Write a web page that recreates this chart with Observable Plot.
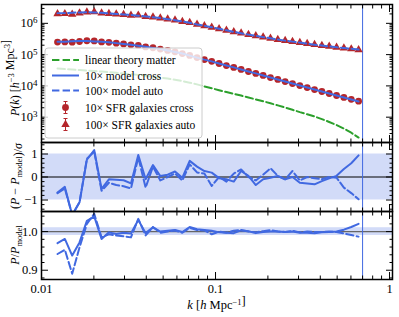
<!DOCTYPE html>
<html><head><meta charset="utf-8">
<script src="https://cdn.jsdelivr.net/npm/d3@7"></script>
<script src="https://cdn.jsdelivr.net/npm/@observablehq/plot@0.6"></script>
<style>
html,body{margin:0;padding:0;background:#fff;}
#wrap{position:relative;width:399px;height:317px;overflow:hidden;}
#wrap svg{position:absolute;left:0;}
</style></head><body><div id="wrap"></div>
<script>
// ---- data ----
const k = [0.01236,0.01362,0.01501,0.01654,0.01823,0.02009,0.02214,0.02440,0.02689,0.02963,
  0.03266,0.03599,0.03966,0.04371,0.04817,0.05309,0.05851,0.06448,0.07106,0.07831,
  0.08630,0.09510,0.1048,0.1155,0.1273,0.1403,0.1546,0.1704,0.1878,0.2069,
  0.2280,0.2513,0.2769,0.3052,0.3363,0.3707,0.4085,0.4501,0.4961,0.5467,
  0.6026,0.6640];
const modelCross = [260000,260000,266000,270000,270000,264000,260000,247000,233000,220000,
  206000,191000,177000,164000,150000,136000,122000,108000,92900,80200,
  69200,60700,52000,44900,39000,33400,28800,25100,21600,18500,
  16100,13800,11900,10300,8890,7670,6620,5710,4930,4260,
  3670,3180];
const modelAuto = [2120000,2130000,2180000,2230000,2260000,2230000,2160000,2070000,2000000,1920000,
  1840000,1760000,1660000,1570000,1470000,1360000,1260000,1150000,1040000,922000,
  832000,750000,667000,597000,535000,483000,436000,396000,362000,332000,
  304000,280000,260000,242000,224000,208000,195000,183000,172000,162000,
  153000,145000];
const linearTheory = [35700,34400,33200,32000,30800,29700,28600,27400,26200,24900,
  23700,22500,21000,19700,18400,17100,15700,14200,12700,11200,
  9640,8380,7290,6380,5600,4900,4260,3700,3220,2780,
  2380,2030,1720,1450,1240,1050,869,703,560,433,
  318,223];
const residCross = [-0.68,-0.43,-1.65,-1.1,0.75,1.17,-0.52,-0.1,-0.12,-0.14,
  -0.28,0.96,-0.1,0.52,0.04,0.1,0.24,-0.03,0.7,0.45,
  0.26,0.19,-0.05,-0.1,-0.2,0.26,0.05,-0.35,-0.1,-0.03,
  0.04,-0.1,0.0,-0.25,-0.28,-0.32,-0.18,-0.06,0.05,0.35,
  0.6,0.94];
const residAuto = [-0.7,-0.5,-1.65,-1.1,0.8,1.1,-0.6,-0.25,-0.35,-0.4,
  -0.5,0.85,-0.46,0.45,-0.15,0.0,0.15,-0.15,0.55,0.2,
  0.15,-0.39,0.0,-0.2,0.15,0.33,0.0,-0.15,0.1,0.38,
  0.05,-0.1,0.26,-0.15,0.0,-0.05,-0.1,0.0,-0.03,-0.46,
  -0.7,-0.97];
const ratioCross = [0.970,0.981,0.938,0.972,1.028,1.039,0.981,0.998,0.994,0.997,
  0.995,1.030,0.996,1.011,1.000,1.002,1.004,0.999,1.012,1.006,
  1.004,1.002,0.998,0.997,0.996,1.003,1.001,0.996,0.999,1.000,
  1.000,0.999,1.000,0.997,0.997,0.996,0.998,0.999,1.000,1.005,
  1.012,1.020];
const ratioAuto = [0.942,0.953,0.891,0.959,1.020,1.046,0.985,0.993,0.990,0.988,
  0.985,1.033,0.990,1.012,0.997,1.000,1.003,0.997,1.010,1.004,
  1.003,0.993,1.000,0.997,1.002,1.004,1.000,0.998,1.001,1.004,
  1.000,0.999,1.002,0.998,1.000,0.999,0.999,1.000,0.999,0.995,
  0.991,0.987];
const relErr = [0.045,0.043,0.040,0.038,0.036,0.034,0.032,0.031,0.030,0.029,
  0.028,0.027,0.026,0.025,0.024,0.023,0.022,0.022,0.021,0.021,
  0.020,0.020,0.019,0.019,0.018,0.018,0.018,0.017,0.017,0.017,
  0.016,0.016,0.016,0.016,0.016,0.016,0.016,0.017,0.017,0.018,
  0.019,0.020];
const kMax = [0.7];

const xMajorTicks = [0.01, 0.1, 1];
const xTickLabels = ["0.01", "0.1", "1"];
const xMinorTicks = [0.02,0.03,0.04,0.05,0.06,0.07,0.08,0.09,0.2,0.3,0.4,0.5,0.6,0.7,0.8,0.9];
const pMajorTicks = [1e3, 1e4, 1e5, 1e6];
const pTickLabels = ["10^3", "10^4", "10^5", "10^6"];
const pMinorTicks = [200,300,400,500,600,700,800,900,2000,3000,4000,5000,6000,7000,8000,9000,
  20000,30000,40000,50000,60000,70000,80000,90000,200000,300000,400000,500000,600000,700000,800000,900000,
  2000000,3000000,4000000];
const residMajorTicks = [-1, 0, 1];
const residTickLabels = ["\u22121", "0", "1"];
const residMinorTicks = [-1.4,-1.2,-0.8,-0.6,-0.4,-0.2,0.2,0.4,0.6,0.8,1.2,1.4];
const ratioMajorTicks = [0.9, 1.0];
const ratioTickLabels = ["0.9", "1.0"];
const ratioMinorTicks = [0.88,0.92,0.94,0.96,0.98,1.02,1.04];
const residBand = [{lo: -1, hi: 1}];
const ratioBand = [{lo: 0.99, hi: 1.01}];
const residZero = [0];
const ratioOne = [1];
const legendLabels = ["linear theory matter", "10\u00d7 model cross", "100\u00d7 model auto",
  "10\u00d7 SFR galaxies cross", "100\u00d7 SFR galaxies auto"];

// ---- styles ----
const BLUE = "#4169e1", RED = "#b5262b", GREEN = "#2ca02c";
const FONT = "'Liberation Serif','Times New Roman',Times,serif";
const DASH = "7.4,3.2";
const W = 399, ML = 41, MR = 7;

const rows = k.map((kk, i) => ({
  k: kk, mc: modelCross[i], ma: modelAuto[i], lin: linearTheory[i],
  pc: modelCross[i] * ratioCross[i], pa: modelAuto[i] * ratioAuto[i], e: relErr[i],
  rc: residCross[i], ra: residAuto[i], qc: ratioCross[i], qa: ratioAuto[i]
}));

function edgeAxes(yMajor, yMinor, yLabels, showX) {
  const m = [];
  for (const anchor of ["top", "bottom"]) {
    m.push(Plot.axisX(xMajorTicks, {anchor, tickSize: -7, tickFormat: () => "", label: null}));
    m.push(Plot.axisX(xMinorTicks, {anchor, tickSize: -3.5, tickFormat: () => "", label: null}));
  }
  for (const anchor of ["left", "right"]) {
    m.push(Plot.axisY(yMajor, {anchor, tickSize: -7, tickFormat: () => "", label: null}));
    m.push(Plot.axisY(yMinor, {anchor, tickSize: -3.5, tickFormat: () => "", label: null}));
  }
  m.push(Plot.axisY(yMajor, {anchor: "left", tickSize: 0, tickPadding: 4,
    tickFormat: d => yLabels[yMajor.indexOf(d)], label: null}));
  if (showX) m.push(Plot.axisX(xMajorTicks, {anchor: "bottom", tickSize: 0, tickPadding: 5,
    tickFormat: d => xTickLabels[xMajorTicks.indexOf(d)], label: null}));
  return m;
}
const style = {fontFamily: FONT, fontSize: "12.5px", background: "transparent", overflow: "visible", color: "black"};
const xScale = {type: "log", domain: [0.01, 1.04]};

const p1 = Plot.plot({
  width: W, height: 142, marginTop: 4, marginBottom: 0, marginLeft: ML, marginRight: MR,
  style, x: xScale, y: {type: "log", domain: [155, 4e6]},
  marks: [
    Plot.ruleX(kMax, {stroke: BLUE, strokeWidth: 1}),
    Plot.line(rows, {x: "k", y: "lin", stroke: GREEN, strokeWidth: 2, strokeDasharray: DASH}),
    Plot.ruleX(rows, {x: "k", y1: d => d.pc * (1 - d.e), y2: d => d.pc * (1 + d.e), stroke: RED, strokeWidth: 1}),
    Plot.ruleX(rows, {x: "k", y1: d => d.pa * (1 - d.e), y2: d => d.pa * (1 + d.e), stroke: RED, strokeWidth: 1}),
    Plot.dot(rows, {x: "k", y: "pc", r: 3.4, fill: RED}),
    Plot.dot(rows, {x: "k", y: "pa", r: 3.1, symbol: "triangle", fill: RED}),
    Plot.line(rows, {x: "k", y: "mc", stroke: BLUE, strokeWidth: 2}),
    Plot.line(rows, {x: "k", y: "ma", stroke: BLUE, strokeWidth: 2, strokeDasharray: DASH}),
    ...edgeAxes(pMajorTicks, pMinorTicks, pTickLabels, false),
    Plot.frame({stroke: "black", strokeWidth: 1.5})
  ]
});

const p2 = Plot.plot({
  width: W, height: 69, marginTop: 0, marginBottom: 0, marginLeft: ML, marginRight: MR,
  style, x: xScale, y: {domain: [-1.5, 1.5]},
  marks: [
    Plot.rect(residBand, {y1: "lo", y2: "hi", fill: BLUE, fillOpacity: 0.24}),
    Plot.ruleY(residZero, {stroke: "black", strokeWidth: 1}),
    Plot.ruleX(kMax, {stroke: BLUE, strokeWidth: 1}),
    Plot.line(rows, {x: "k", y: "rc", stroke: BLUE, strokeWidth: 2, clip: true}),
    Plot.line(rows, {x: "k", y: "ra", stroke: BLUE, strokeWidth: 2, strokeDasharray: DASH, clip: true}),
    ...edgeAxes(residMajorTicks, residMinorTicks, residTickLabels, false),
    Plot.frame({stroke: "black", strokeWidth: 1.5})
  ]
});

const p3 = Plot.plot({
  width: W, height: 106, marginTop: 0, marginBottom: 38, marginLeft: ML, marginRight: MR,
  style, x: xScale, y: {domain: [0.876, 1.052]},
  marks: [
    Plot.rect(ratioBand, {y1: "lo", y2: "hi", fill: BLUE, fillOpacity: 0.24}),
    Plot.ruleY(ratioOne, {stroke: "#666", strokeWidth: 1.2}),
    Plot.ruleX(kMax, {stroke: BLUE, strokeWidth: 1}),
    Plot.line(rows, {x: "k", y: "qc", stroke: BLUE, strokeWidth: 2, clip: true}),
    Plot.line(rows, {x: "k", y: "qa", stroke: BLUE, strokeWidth: 2, strokeDasharray: DASH, clip: true}),
    ...edgeAxes(ratioMajorTicks, ratioMinorTicks, ratioTickLabels, true),
    Plot.frame({stroke: "black", strokeWidth: 1.5})
  ]
});

// superscript exponents on log tick labels
const NS = "http://www.w3.org/2000/svg";
p1.querySelectorAll("text").forEach(t => {
  const m = t.textContent.match(/^10\^(\d)$/);
  if (m) {
    t.textContent = "10";
    const ts = document.createElementNS(NS, "tspan");
    ts.setAttribute("dy", "-0.45em");
    ts.setAttribute("font-size", "9px");
    ts.textContent = m[1];
    t.appendChild(ts);
  }
});

const wrap = document.getElementById("wrap");
p1.style.top = "0px"; p2.style.top = "142px"; p3.style.top = "211px";
wrap.appendChild(p1); wrap.appendChild(p2); wrap.appendChild(p3);

// overlay: axis titles and legend
const ly = [60, 75.5, 90.5, 107.5, 124.5];
const it = s => `<tspan font-style="italic">${s}</tspan>`;
const sup = s => `<tspan dy="-4.5" font-size="8.5">${s}</tspan><tspan dy="4.5"></tspan>`;
const sub = s => `<tspan dy="3" font-size="8.5">${s}</tspan><tspan dy="-3"></tspan>`;
let leg = `<rect x="45" y="48" width="157" height="90" rx="3" fill="white" fill-opacity="0.8" stroke="#cccccc" stroke-width="1"/>`;
leg += `<line x1="52" x2="79" y1="${ly[0]}" y2="${ly[0]}" stroke="${GREEN}" stroke-width="2" stroke-dasharray="${DASH}"/>`;
leg += `<line x1="52" x2="79" y1="${ly[1]}" y2="${ly[1]}" stroke="${BLUE}" stroke-width="2"/>`;
leg += `<line x1="52" x2="79" y1="${ly[2]}" y2="${ly[2]}" stroke="${BLUE}" stroke-width="2" stroke-dasharray="${DASH}"/>`;
for (const j of [3, 4]) {
  const y = ly[j];
  leg += `<line x1="65.5" x2="65.5" y1="${y - 6}" y2="${y + 6}" stroke="${RED}" stroke-width="1"/>`;
  leg += `<line x1="63.5" x2="67.5" y1="${y - 6}" y2="${y - 6}" stroke="${RED}" stroke-width="1"/>`;
  leg += `<line x1="63.5" x2="67.5" y1="${y + 6}" y2="${y + 6}" stroke="${RED}" stroke-width="1"/>`;
}
leg += `<circle cx="65.5" cy="${ly[3]}" r="3.4" fill="${RED}"/>`;
leg += `<path d="${d3.symbol(d3.symbolTriangle, Math.PI * 3.1 * 3.1)()}" transform="translate(65.5,${ly[4]})" fill="${RED}"/>`;
legendLabels.forEach((s, j) => {
  leg += `<text x="85" y="${ly[j]}" dy="0.35em" font-size="11.5">${s}</text>`;
});
const over = `<svg xmlns="${NS}" width="399" height="317" style="top:0;left:0;pointer-events:none;overflow:visible" font-family="${FONT}" fill="black">
${leg}
<text transform="translate(18.5,78) rotate(-90)" text-anchor="middle" font-size="12">${it("P")}(${it("k")}) [${it("h")}${sup("\u22123")} Mpc${sup("3")}]</text>
<text transform="translate(18.5,176) rotate(-90)" text-anchor="middle" font-size="12">(${it("P")} \u2212 ${it("P")}${sub("model")})/${it("\u03c3")}</text>
<text transform="translate(18.5,245) rotate(-90)" text-anchor="middle" font-size="12">${it("P")}/${it("P")}${sub("model")}</text>
<text x="216.5" y="309" text-anchor="middle" font-size="12.5">${it("k")} [${it("h")} Mpc${sup("\u22121")}]</text>
</svg>`;
wrap.insertAdjacentHTML("beforeend", over);
</script>
</body></html>
